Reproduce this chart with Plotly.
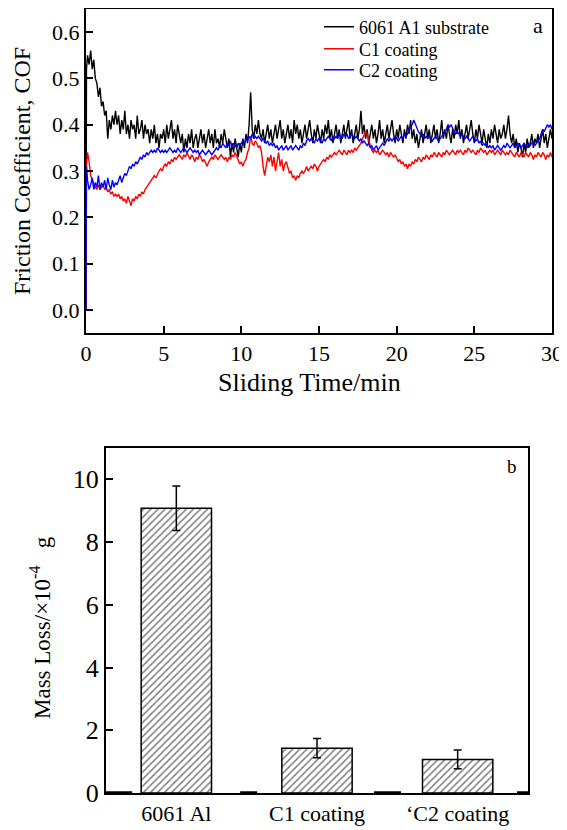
import plotly.graph_objects as go

# ---------------- data ----------------
# sampling times (min): start, then every 0.1 min
TIME = [0.0, 0.03] + [round(0.1 * i, 1) for i in range(1, 301)]

COF_6061 = [0.0, 0.52,
    0.55, 0.53, 0.56, 0.52, 0.54, 0.50, 0.49, 0.46, 0.48, 0.44,
    0.45, 0.42, 0.43, 0.37, 0.41, 0.39, 0.42, 0.40, 0.43, 0.40,
    0.42, 0.38, 0.41, 0.39, 0.43, 0.38, 0.40, 0.37, 0.41, 0.39,
    0.40, 0.37, 0.42, 0.38, 0.39, 0.41, 0.37, 0.40, 0.38, 0.39,
    0.36, 0.39, 0.37, 0.40, 0.36, 0.38, 0.35, 0.38, 0.37, 0.39,
    0.36, 0.40, 0.37, 0.39, 0.41, 0.37, 0.39, 0.36, 0.40, 0.38,
    0.36, 0.38, 0.34, 0.37, 0.35, 0.38, 0.36, 0.39, 0.35, 0.37,
    0.38, 0.35, 0.37, 0.39, 0.36, 0.38, 0.35, 0.37, 0.39, 0.36,
    0.38, 0.35, 0.39, 0.36, 0.37, 0.35, 0.38, 0.36, 0.39, 0.37,
    0.35, 0.37, 0.33, 0.36, 0.34, 0.37, 0.35, 0.33, 0.36, 0.34,
    0.37, 0.35, 0.38, 0.36, 0.40, 0.47, 0.39, 0.37, 0.40, 0.38,
    0.41, 0.38, 0.37, 0.39, 0.36, 0.38, 0.40, 0.37, 0.39, 0.36,
    0.38, 0.40, 0.37, 0.39, 0.41, 0.37, 0.39, 0.36, 0.38, 0.40,
    0.37, 0.39, 0.36, 0.41, 0.38, 0.40, 0.37, 0.39, 0.36, 0.38,
    0.40, 0.37, 0.39, 0.41, 0.38, 0.36, 0.39, 0.37, 0.40, 0.38,
    0.36, 0.39, 0.37, 0.40, 0.38, 0.41, 0.37, 0.39, 0.36, 0.38,
    0.40, 0.37, 0.39, 0.36, 0.38, 0.40, 0.37, 0.39, 0.41, 0.37,
    0.39, 0.36, 0.38, 0.40, 0.37, 0.39, 0.43, 0.38, 0.40, 0.37,
    0.39, 0.36, 0.38, 0.40, 0.37, 0.39, 0.36, 0.38, 0.41, 0.37,
    0.39, 0.36, 0.38, 0.40, 0.37, 0.39, 0.41, 0.38, 0.36, 0.39,
    0.37, 0.40, 0.38, 0.36, 0.39, 0.37, 0.40, 0.38, 0.41, 0.37,
    0.39, 0.36, 0.38, 0.35, 0.37, 0.39, 0.36, 0.38, 0.40, 0.37,
    0.39, 0.36, 0.38, 0.40, 0.37, 0.39, 0.36, 0.38, 0.41, 0.37,
    0.39, 0.37, 0.40, 0.38, 0.36, 0.39, 0.37, 0.40, 0.38, 0.41,
    0.37, 0.39, 0.36, 0.38, 0.40, 0.37, 0.39, 0.41, 0.38, 0.36,
    0.39, 0.37, 0.40, 0.38, 0.36, 0.39, 0.37, 0.35, 0.38, 0.36,
    0.39, 0.37, 0.40, 0.38, 0.36, 0.39, 0.37, 0.38, 0.40, 0.37,
    0.39, 0.42, 0.38, 0.36, 0.38, 0.35, 0.37, 0.34, 0.36, 0.35,
    0.33, 0.36, 0.34, 0.37, 0.35, 0.36, 0.38, 0.35, 0.37, 0.36,
    0.38, 0.35, 0.37, 0.39, 0.36, 0.38, 0.35, 0.37, 0.39, 0.37]

COF_C1 = [0.0, 0.31,
    0.34, 0.32, 0.29, 0.28, 0.27, 0.265, 0.26, 0.27, 0.26, 0.265,
    0.27, 0.26, 0.265, 0.255, 0.26, 0.25, 0.255, 0.245, 0.25, 0.245,
    0.25, 0.24, 0.245, 0.235, 0.24, 0.23, 0.245, 0.235, 0.225, 0.24,
    0.235, 0.245, 0.24, 0.25, 0.245, 0.255, 0.25, 0.26, 0.265, 0.27,
    0.275, 0.28, 0.285, 0.29, 0.285, 0.295, 0.30, 0.305, 0.30, 0.31,
    0.315, 0.31, 0.32, 0.315, 0.325, 0.32, 0.33, 0.325, 0.33, 0.335,
    0.33, 0.325, 0.335, 0.33, 0.34, 0.33, 0.325, 0.335, 0.33, 0.32,
    0.33, 0.325, 0.335, 0.33, 0.32, 0.325, 0.315, 0.31, 0.32, 0.325,
    0.33, 0.325, 0.335, 0.33, 0.325, 0.33, 0.335, 0.33, 0.325, 0.33,
    0.32, 0.33, 0.325, 0.335, 0.33, 0.34, 0.33, 0.325, 0.315, 0.32,
    0.31, 0.32, 0.325, 0.34, 0.35, 0.375, 0.36, 0.355, 0.365, 0.36,
    0.35, 0.355, 0.34, 0.31, 0.29, 0.31, 0.33, 0.32, 0.335, 0.31,
    0.33, 0.30, 0.32, 0.34, 0.31, 0.325, 0.30, 0.315, 0.32, 0.305,
    0.295, 0.30, 0.285, 0.29, 0.28, 0.29, 0.285, 0.295, 0.30, 0.295,
    0.30, 0.31, 0.30, 0.305, 0.31, 0.305, 0.315, 0.31, 0.30, 0.31,
    0.315, 0.32, 0.325, 0.32, 0.33, 0.325, 0.335, 0.33, 0.335, 0.34,
    0.335, 0.34, 0.345, 0.34, 0.335, 0.345, 0.34, 0.335, 0.345, 0.34,
    0.345, 0.34, 0.35, 0.345, 0.35, 0.355, 0.36, 0.37, 0.38, 0.385,
    0.38, 0.37, 0.355, 0.345, 0.34, 0.345, 0.34, 0.345, 0.335, 0.34,
    0.345, 0.34, 0.335, 0.34, 0.33, 0.34, 0.335, 0.33, 0.335, 0.325,
    0.32, 0.325, 0.315, 0.32, 0.31, 0.315, 0.305, 0.315, 0.31, 0.32,
    0.315, 0.325, 0.32, 0.33, 0.325, 0.32, 0.33, 0.325, 0.335, 0.33,
    0.325, 0.335, 0.33, 0.34, 0.335, 0.33, 0.34, 0.335, 0.33, 0.34,
    0.335, 0.345, 0.34, 0.335, 0.34, 0.345, 0.34, 0.335, 0.345, 0.34,
    0.345, 0.34, 0.335, 0.345, 0.34, 0.35, 0.345, 0.34, 0.345, 0.34,
    0.335, 0.345, 0.34, 0.35, 0.345, 0.34, 0.345, 0.335, 0.34, 0.345,
    0.34, 0.345, 0.335, 0.34, 0.345, 0.34, 0.335, 0.345, 0.34, 0.335,
    0.34, 0.335, 0.345, 0.34, 0.335, 0.33, 0.34, 0.335, 0.33, 0.34,
    0.335, 0.33, 0.34, 0.335, 0.33, 0.34, 0.335, 0.325, 0.335, 0.33,
    0.34, 0.335, 0.33, 0.34, 0.335, 0.325, 0.335, 0.33, 0.34, 0.33]

COF_C2 = [0.0, 0.31,
    0.28, 0.26, 0.27, 0.285, 0.26, 0.275, 0.265, 0.29, 0.26, 0.275,
    0.265, 0.28, 0.26, 0.285, 0.27, 0.26, 0.28, 0.265, 0.275, 0.27,
    0.28, 0.29, 0.275, 0.285, 0.295, 0.29, 0.30, 0.31, 0.305, 0.315,
    0.31, 0.32, 0.315, 0.325, 0.33, 0.325, 0.335, 0.33, 0.34, 0.335,
    0.34, 0.345, 0.34, 0.345, 0.34, 0.35, 0.345, 0.34, 0.345, 0.34,
    0.345, 0.34, 0.345, 0.35, 0.345, 0.34, 0.345, 0.34, 0.35, 0.345,
    0.34, 0.345, 0.35, 0.345, 0.34, 0.345, 0.35, 0.345, 0.34, 0.345,
    0.34, 0.345, 0.335, 0.34, 0.345, 0.34, 0.335, 0.34, 0.345, 0.34,
    0.335, 0.34, 0.345, 0.35, 0.345, 0.355, 0.35, 0.36, 0.355, 0.35,
    0.36, 0.355, 0.365, 0.35, 0.36, 0.355, 0.35, 0.36, 0.355, 0.36,
    0.365, 0.36, 0.37, 0.365, 0.375, 0.37, 0.38, 0.37, 0.375, 0.37,
    0.375, 0.37, 0.365, 0.37, 0.365, 0.36, 0.365, 0.355, 0.36, 0.355,
    0.36, 0.35, 0.355, 0.345, 0.35, 0.355, 0.345, 0.35, 0.355, 0.345,
    0.35, 0.355, 0.345, 0.35, 0.355, 0.35, 0.345, 0.355, 0.35, 0.36,
    0.355, 0.365, 0.37, 0.365, 0.37, 0.365, 0.36, 0.37, 0.365, 0.37,
    0.365, 0.36, 0.37, 0.365, 0.37, 0.375, 0.37, 0.365, 0.375, 0.37,
    0.375, 0.37, 0.38, 0.375, 0.37, 0.38, 0.375, 0.38, 0.37, 0.375,
    0.38, 0.375, 0.37, 0.375, 0.37, 0.365, 0.37, 0.36, 0.365, 0.36,
    0.355, 0.36, 0.35, 0.355, 0.345, 0.35, 0.355, 0.345, 0.35, 0.355,
    0.36, 0.355, 0.365, 0.37, 0.365, 0.37, 0.365, 0.37, 0.375, 0.37,
    0.365, 0.37, 0.375, 0.37, 0.38, 0.375, 0.38, 0.39, 0.395, 0.40,
    0.41, 0.40, 0.39, 0.385, 0.38, 0.375, 0.38, 0.37, 0.375, 0.37,
    0.375, 0.37, 0.365, 0.37, 0.375, 0.37, 0.365, 0.37, 0.375, 0.38,
    0.385, 0.39, 0.40, 0.395, 0.40, 0.39, 0.385, 0.38, 0.385, 0.38,
    0.375, 0.38, 0.375, 0.37, 0.375, 0.37, 0.365, 0.37, 0.375, 0.37,
    0.365, 0.37, 0.36, 0.365, 0.355, 0.36, 0.355, 0.36, 0.35, 0.355,
    0.35, 0.355, 0.345, 0.35, 0.355, 0.35, 0.345, 0.35, 0.355, 0.35,
    0.36, 0.355, 0.35, 0.355, 0.36, 0.35, 0.355, 0.36, 0.355, 0.35,
    0.355, 0.36, 0.355, 0.35, 0.36, 0.355, 0.36, 0.365, 0.355, 0.36,
    0.365, 0.37, 0.38, 0.39, 0.385, 0.395, 0.40, 0.395, 0.40, 0.39]

SERIES_NAMES = ["6061 A1 substrate", "C1 coating", "C2 coating"]
SERIES_COLORS = ["#000000", "#ff0000", "#0000ff"]

SAMPLES = ["6061 Al", "C1 coating", "\u02bbC2 coating"]
MASS_LOSS = [9.08, 1.43, 1.07]
MASS_ERR = [0.71, 0.31, 0.30]

FONT = "Times New Roman"

# the page body has an 8px default margin, so the figure is 8px smaller
OFF = 8
W, H = 567 - OFF, 830 - OFF
def px_x(p):
    return (p - OFF) / W
def px_y(p):
    return 1 - (p - OFF) / H

fig = go.Figure()

legend_ids = ["legend", "legend2", "legend3"]
legend_rows = [27, 49, 70]
for name, ys, col, lid in zip(SERIES_NAMES, [COF_6061, COF_C1, COF_C2],
                              SERIES_COLORS, legend_ids):
    fig.add_trace(go.Scatter(x=TIME, y=ys, mode="lines", name=name,
                             line=dict(color=col, width=1.4),
                             legend=lid, xaxis="x", yaxis="y"))

fig.add_trace(go.Bar(
    x=SAMPLES, y=MASS_LOSS, width=0.5, showlegend=False,
    marker=dict(color="white", line=dict(color="black", width=1.5),
                pattern=dict(shape="/", fgcolor="black", bgcolor="white",
                             size=5, solidity=0.3)),
    error_y=dict(type="data", array=MASS_ERR, color="black",
                 thickness=1.5, width=4),
    xaxis="x2", yaxis="y2"))

axis_common = dict(showline=True, linecolor="black", linewidth=2, mirror=True,
                   showgrid=False, zeroline=False, ticks="inside",
                   tickcolor="black", tickwidth=1.5, ticklen=7,
                   automargin=False)

fig.update_layout(
    width=W, height=H, margin=dict(l=0, r=0, t=0, b=0, autoexpand=False),
    paper_bgcolor="white", plot_bgcolor="white",
    font=dict(family=FONT, color="black"),
    xaxis=dict(domain=[px_x(86), px_x(552)], range=[0, 30], dtick=5,
               tickfont=dict(size=22), anchor="y", **axis_common),
    yaxis=dict(domain=[px_y(333), px_y(9)], range=[-0.05, 0.65], dtick=0.1,
               tickformat=".1f", tickfont=dict(size=22), anchor="x",
               **axis_common),
    xaxis2=dict(domain=[px_x(106), px_x(528)], range=[-0.5, 2.5],
                type="category", tickfont=dict(size=22), anchor="y2",
                showline=True, linecolor="black", linewidth=2, mirror=True,
                showgrid=False, zeroline=False, ticks="", automargin=False),
    yaxis2=dict(domain=[px_y(793), px_y(448)], range=[0, 11], dtick=2,
                tickfont=dict(size=26), anchor="x2", **axis_common),
    showlegend=True,
)
for lid, row in zip(legend_ids, legend_rows):
    fig.update_layout({lid: dict(x=px_x(319), y=px_y(row), xanchor="left",
                                 yanchor="middle", bgcolor="rgba(0,0,0,0)",
                                 font=dict(size=18), borderwidth=0)})

annotations = [
    dict(text="Friction Coefficient, COF", x=px_x(22), y=px_y(171),
         textangle=-90, font=dict(size=24)),
    dict(text="Sliding Time/min", x=px_x(309), y=px_y(382),
         font=dict(size=26)),
    dict(text="Mass Loss/\u00d710<sup>-4</sup>   g", x=px_x(40), y=px_y(628),
         textangle=-90, font=dict(size=23)),
    dict(text="a", x=px_x(538), y=px_y(26), font=dict(size=22)),
    dict(text="b", x=px_x(512), y=px_y(466), font=dict(size=19)),
]
for a in annotations:
    a.update(xref="paper", yref="paper", showarrow=False,
             xanchor="center", yanchor="middle")
fig.update_layout(annotations=annotations)

# darker segments on the bar-chart baseline
for x0, x1 in [(0.0, 0.062), (0.318, 0.358), (0.635, 0.699), (0.974, 1.0)]:
    fig.add_shape(type="line", xref="x2 domain", yref="y2", x0=x0, x1=x1,
                  y0=0, y1=0, line=dict(color="black", width=3.5))

fig.write_html("out.html")
